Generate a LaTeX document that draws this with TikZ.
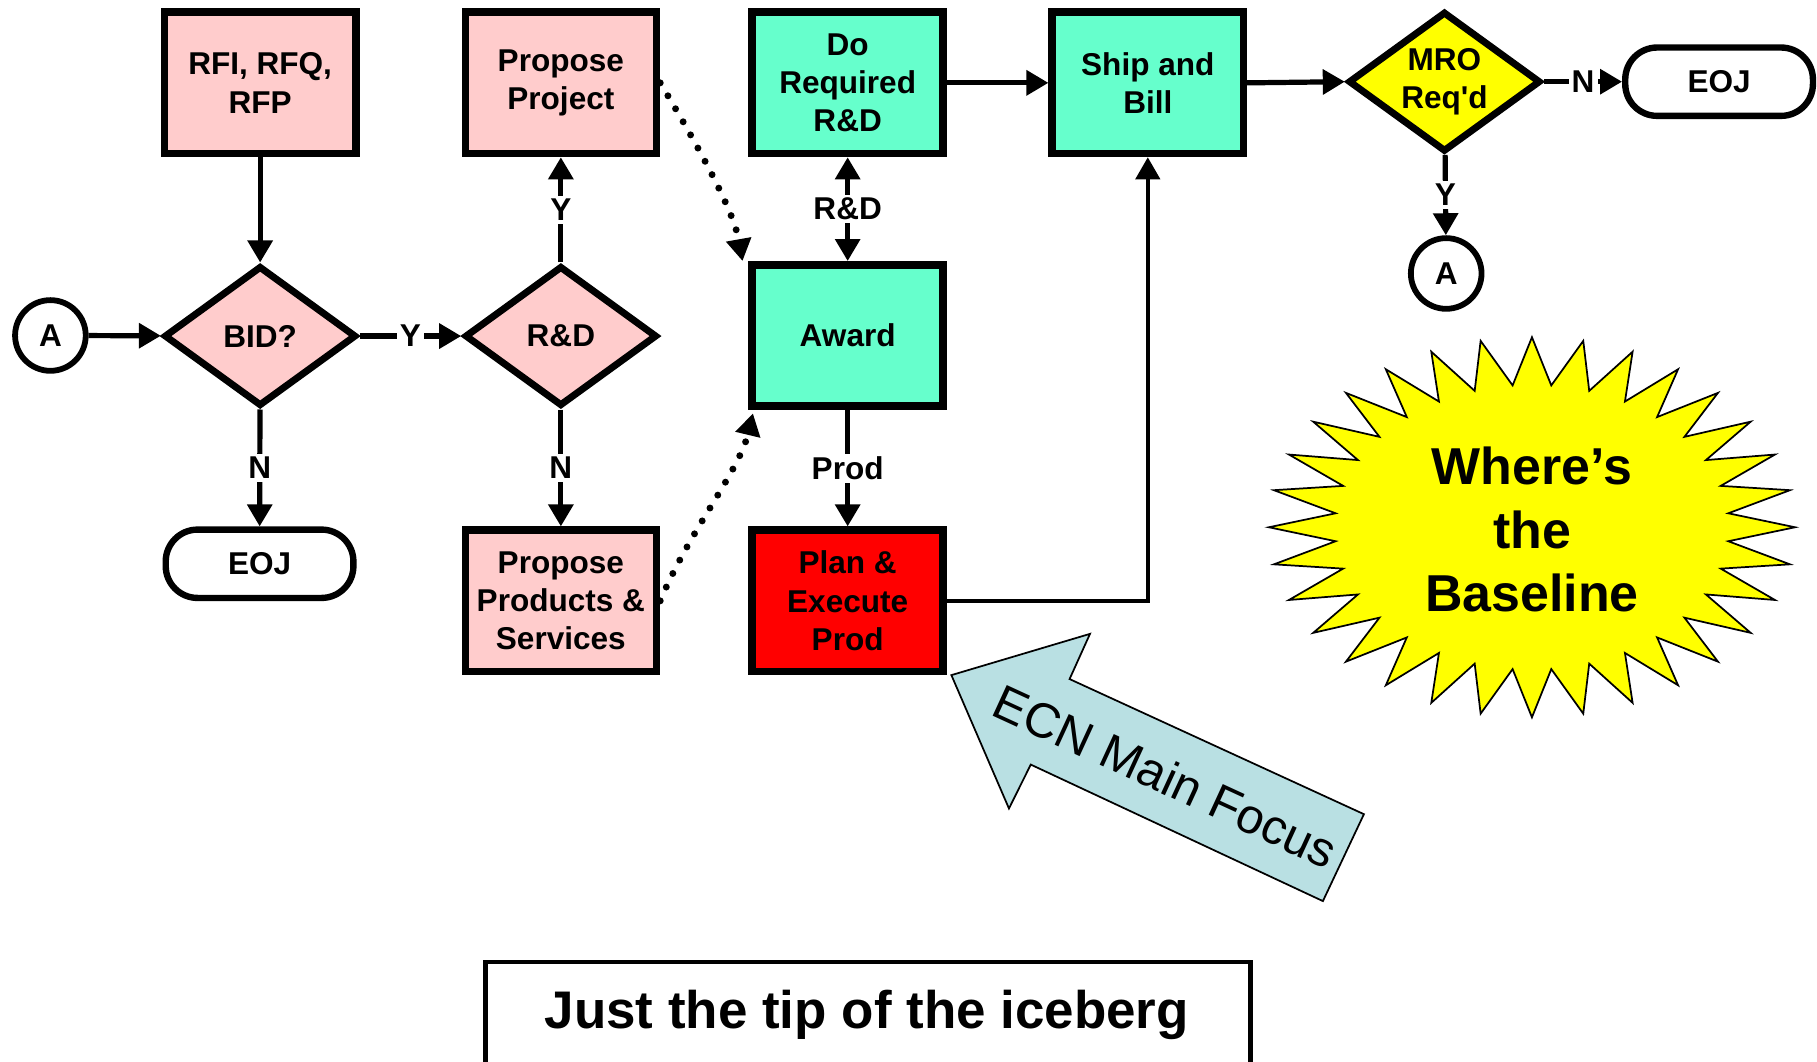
\documentclass[tikz,border=0pt]{standalone}
\usepackage{fontspec}
\setmainfont{Liberation Sans}
\usetikzlibrary{arrows.meta,shapes.geometric}
\definecolor{pinkf}{HTML}{FFCCCC}
\definecolor{aquaf}{HTML}{66FFCC}
\definecolor{redf}{HTML}{FF0000}
\definecolor{yelf}{HTML}{FFFF00}
\definecolor{bluef}{HTML}{B9E0E3}
\begin{document}
\begin{tikzpicture}[x=0.02cm,y=-0.02cm,
  >={Triangle[width=0.42cm,length=0.38cm]},
  txt/.style={font=\fontsize{15.5}{18.8}\selectfont\bfseries, align=center},
  box/.style={txt, draw, line width=0.13cm, rectangle, minimum width=3.3cm, minimum height=2.44cm, inner sep=0pt},
  dia/.style={draw, line width=0.12cm, diamond, minimum width=3.32cm, minimum height=2.42cm, inner sep=0pt},
  circ/.style={txt, draw, line width=0.1cm, circle, minimum size=1.22cm, inner sep=0pt, fill=white},
  pill/.style={txt, draw, line width=0.11cm, rectangle, rounded corners=0.55cm, minimum width=3.24cm, minimum height=1.18cm, fill=white},
  conn/.style={line width=0.09cm, ->},
  lbl/.style={txt, fill=white, inner sep=1.5pt},
  dots/.style={line width=0.12cm, line cap=round, dash pattern=on 0pt off 0.26cm, ->},
  thin/.style={line width=0.03cm},
]
\useasboundingbox (0,0) rectangle (1568,916);
\clip (0,0) rectangle (1568,916);

% nodes
\node[box, fill=pinkf] (rfi) at (224.5,71.5) {RFI, RFQ,\\RFP};
\node[box, fill=pinkf] (pp) at (484,71.5) {Propose\\Project};
\node[box, fill=aquaf] (dr) at (731.5,71.5) {Do\\Required\\R\&D};
\node[box, fill=aquaf] (sb) at (990.5,71.5) {Ship and\\Bill};
\node[dia, fill=yelf] (mro) at (1246.5,70.5) {};
\node[txt] (mrot) at (mro) {MRO\\Req\textquotesingle d};
\node[pill] (eoj2) at (1483.5,70.5) {EOJ};
\node[circ] (a2) at (1248,236) {A};
\node[circ] (a1) at (43.5,289.5) {A};
\node[dia, fill=pinkf] (bid) at (224.5,290) {};
\node[txt] (bidt) at (bid) {BID?};
\node[dia, fill=pinkf] (rd) at (484,290) {};
\node[txt] (rdt) at (rd) {R\&D};
\node[box, fill=aquaf] (aw) at (731.5,289.5) {Award};
\node[pill] (eoj1) at (224,486.5) {EOJ};
\node[box, fill=pinkf] (pps) at (484,518.5) {Propose\\Products \&\\Services};
\node[box, fill=redf] (pl) at (731.5,518.5) {Plan \&\\Execute\\Prod};

% connectors
\draw[conn] (rfi) -- (bid);
\draw[conn] (a1) -- (bid);
\draw[conn] (bid) -- node[lbl]{Y} (rd);
\draw[conn] (rd) -- node[lbl]{Y} (pp);
\draw[conn] (bid) -- node[lbl]{N} (eoj1);
\draw[conn] (rd) -- node[lbl]{N} (pps);
\draw[conn, <->] (dr) -- node[lbl]{R\&D} (aw);
\draw[conn] (aw) -- node[lbl]{Prod} (pl);
\draw[conn] (dr) -- (sb);
\draw[conn] (sb.east) -- (mro.west);
\draw[conn] (mro) -- node[lbl]{N} (eoj2);
\draw[conn] (mro) -- node[lbl]{Y} (a2);
\draw[conn, line width=0.06cm] (pl.east) -| (sb.south);
\draw[dots] (pp.east) .. controls +(30,50) and +(-8,-45) .. ([xshift=-0.1cm]aw.north west);
\draw[dots] (pps.east) .. controls +(25,-60) and +(-12,50) .. ([shift={(0.08cm,-0.06cm)}]aw.south west);

% starburst
\draw[thin, fill=yelf] (1322+227,455)
  \foreach \k in {1,...,63}{ -- ({1322+227*(1-0.25*mod(\k,2))*cos(\k*5.625)}, {455+164*(1-0.25*mod(\k,2))*sin(\k*5.625)}) } -- cycle;
\node[font=\fontsize{25.5}{31.2}\selectfont\bfseries, align=center] (wtb) at (1322,457) {Where’s\\the\\Baseline};

% ECN arrow
\draw[thin, fill=bluef] (821,582.6) -- (940.6,547) -- (923,586) -- (1177,702.6) -- (1141.6,777.6) -- (889.5,659.8) -- (870.7,697.7) -- cycle;
\node[font=\fontsize{24.1}{28}\selectfont, rotate=-24.7] (ecn) at (1006,670) {ECN Main Focus};

% bottom box
\draw[line width=0.08cm] (419,830) rectangle (1079,960);
\node[font=\fontsize{26}{30}\selectfont\bfseries] (tip) at (748,876) {Just the tip of the iceberg};
\end{tikzpicture}
\end{document}
